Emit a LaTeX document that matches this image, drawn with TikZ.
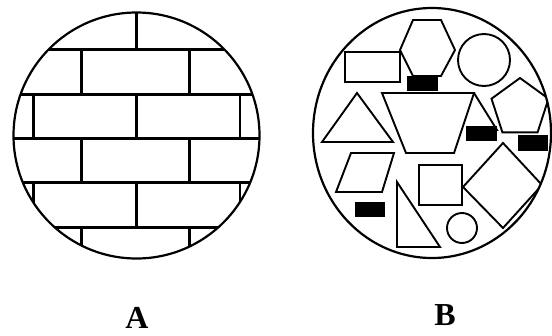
\documentclass[tikz,border=0pt]{standalone}
\usepackage{fontspec}
\newfontfamily\labfont{Liberation Serif}
\begin{document}
\begin{tikzpicture}[x=1pt,y=-1pt,
  outline/.style={line width=2.2pt},
  brick/.style={line width=2.6pt},
  shp/.style={line width=1.9pt, line join=miter},
  blk/.style={fill=black, draw=none},
  lab/.style={font=\labfont\bfseries\fontsize{32}{32}\selectfont, inner sep=0pt}]
\useasboundingbox (0,0) rectangle (552,335);
% ---------------- A : bricks
\begin{scope}
  \clip (136.5,135.5) circle (123);
  \foreach \yy in {49.3,94.3,138.3,182.7,227.7}
    \draw[brick] (0,\yy) -- (280,\yy);
  \foreach \ya/\yb in {0/49.3,94.3/138.3,182.7/227.7}
    \foreach \xx in {33.3,136.7,240}
      \draw[brick] (\xx,\ya) -- (\xx,\yb);
  \foreach \ya/\yb in {49.3/94.3,138.3/182.7,227.7/270}
    \foreach \xx in {81.7,189.3}
      \draw[brick] (\xx,\ya) -- (\xx,\yb);
\end{scope}
\draw[outline] (136.5,135.5) circle (123);
% ---------------- B : shapes
\begin{scope}
  \clip (432,133) ellipse [x radius=119, y radius=125];
  \draw[shp] (345,52) rectangle (400,82);
  \draw[shp] (400,50) -- (413,20) -- (441,20) -- (455,50) -- (441,76) -- (413,76) -- cycle;
  \draw[shp] (484,60) circle (26);
  \draw[shp] (357,93) -- (322,142) -- (393,142) -- cycle;
  \draw[shp] (382,93) -- (474,93) -- (454,153) -- (406,153) -- cycle;
  \draw[shp] (474,93) -- (497,130) -- (466,130);
  \draw[shp] (520,78) -- (548.5,98.7) -- (537.6,132.3) -- (502.4,132.3) -- (491.5,98.7) -- cycle;
  \draw[shp] (351,153) -- (394,153) -- (382,192) -- (336,192) -- cycle;
  \draw[shp] (397,182) -- (397,247) -- (440,247) -- cycle;
  \draw[shp] (419,165) rectangle (462,205);
  \draw[shp] (503,143) -- (542,185) -- (503,228) -- (463,187) -- cycle;
  \draw[shp] (462,228) circle (15);
  \fill[blk] (407,76) rectangle (438,91);
  \fill[blk] (466,126) rectangle (497,141);
  \fill[blk] (518,135) rectangle (548,151);
  \fill[blk] (355,202) rectangle (385,217);
\end{scope}
\draw[outline] (432,133) ellipse [x radius=119, y radius=125];
% ---------------- labels
\node[lab] (labA) at (137,318) {A};
\node[lab] (labB) at (445,315) {B};
\end{tikzpicture}
\end{document}
